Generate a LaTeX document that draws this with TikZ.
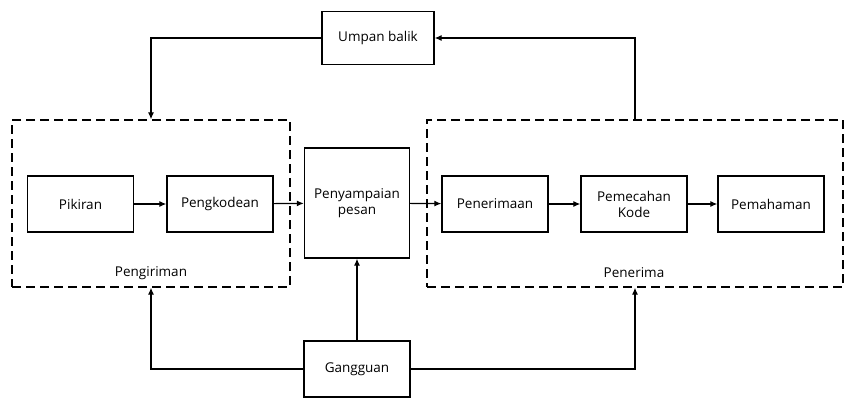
\documentclass[tikz,border=0pt]{standalone}
\usepackage{fontspec}
\setmainfont{Open Sans}
\usetikzlibrary{arrows.meta}
\begin{document}
\begin{tikzpicture}[x=1pt,y=-1pt,
  box/.style={draw,line width=1.3pt,minimum width=106pt,minimum height=56pt,
    inner sep=0pt,align=center,font=\fontsize{13.5}{16}\selectfont},
  group/.style={draw,line width=1.3pt,dash pattern=on 9pt off 5pt,inner sep=0pt},
  lbl/.style={font=\fontsize{13.5}{16}\selectfont},
  arr/.style={line width=1.2pt,-{Latex[length=7pt,width=6pt]}},
  wire/.style={line width=1.2pt}]
\useasboundingbox (0,0) rectangle (844,400);

% feedback
\node[box,minimum width=112pt,minimum height=53pt] (ub) at (378,38) {Umpan balik};

% sender group
\node[group,minimum width=278pt,minimum height=167pt] (send) at (151,203.5) {};
\node[lbl] (sendl) at (151,273) {Pengiriman};
\node[box] (pik) at (80.5,204) {Pikiran};
\node[box] (kod) at (220,204) {Pengkodean};

% channel
\node[box,minimum width=105pt,minimum height=110pt] (pen) at (357,203)
  {Penyampaian\\pesan};

% receiver group
\node[group,minimum width=416pt,minimum height=167pt] (recv) at (635,203.5) {};
\node[lbl] (recvl) at (634,273) {Penerima};
\node[box] (trm) at (495,204) {Penerimaan};
\node[box] (dec) at (634,204) {Pemecahan\\Kode};
\node[box] (pah) at (771,204) {Pemahaman};

% noise
\node[box] (gg) at (357,369) {Gangguan};

% message flow
\draw[arr] (pik) -- (kod);
\draw[arr] (kod) -- (pen);
\draw[arr] (pen) -- (trm);
\draw[arr] (trm) -- (dec);
\draw[arr] (dec) -- (pah);

% feedback loop
\draw[arr] (ub.west) -| (send.north);
\draw[arr] (recv.north) |- (ub.east);

% noise paths
\draw[arr] (gg.north) -- (pen.south);
\draw[arr] (gg.west) -| (send.south);
\draw[arr] (gg.east) -| (recv.south);
\end{tikzpicture}
\end{document}
